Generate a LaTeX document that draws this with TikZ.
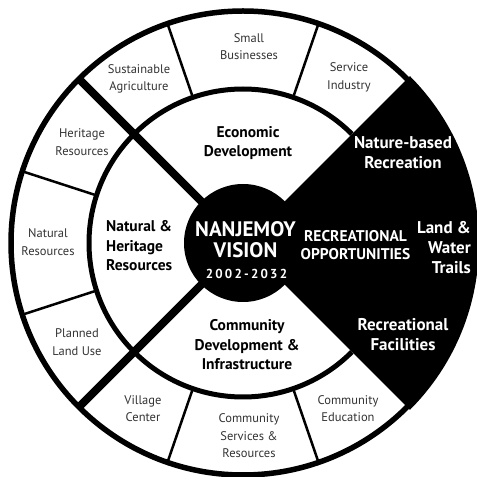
\documentclass[tikz,border=0pt]{standalone}
\usepackage{fontspec}
\setmainfont{PT Sans}
\begin{document}
\begin{tikzpicture}[x=1pt,y=1pt,
  small/.style={font=\fontsize{12.5}{17.5}\selectfont, text=black!80, align=center, inner sep=0pt},
  mid/.style={font=\bfseries\fontsize{15.5}{19.5}\selectfont, align=center, inner sep=0pt},
  rev/.style={font=\bfseries\fontsize{17}{20}\selectfont, text=white, align=center, inner sep=0pt},
  ]
\useasboundingbox (0,0) rectangle (477,477);
\fill[white] (0,0) rectangle (477,477);
\coordinate (C) at (243,234);
% black recreational sector
\fill[black] (C) -- ++(-45:236) arc[start angle=-45,end angle=45,radius=236] -- cycle;
% rings
\draw[line width=5.5] (C) circle[radius=232];
\draw[line width=5] ([shift={(45:154)}]C) arc[start angle=45,end angle=315,radius=154];
\fill[black] (C) circle[radius=59];
% thick spokes
\foreach \a in {135,225} \draw[line width=8] ([shift={(\a:57)}]C) -- ([shift={(\a:232)}]C);
% thin dividers
\foreach \a in {71,109,162,198,251,289} \draw[line width=2.5] ([shift={(\a:154)}]C) -- ([shift={(\a:232)}]C);
% centre
\node[font=\bfseries\fontsize{21}{21}\selectfont, text=white, align=center, inner sep=0pt] (nv) at (245.5,237.5) {NANJEMOY\\VISION};
\node[font=\bfseries\fontsize{13}{14}\selectfont\addfontfeature{LetterSpace=17}, text=white, inner sep=0pt] (yr) at (246.5,203) {2002-2032};
% inner ring
\node[mid] (econ) at (248,334) {Economic\\Development};
\node[mid, anchor=west, align=left] (nat) at (106,231) {Natural \&\\Heritage\\Resources};
\node[mid] (comm) at (247,132) {Community\\Development \&\\Infrastructure};
\node[font=\bfseries\fontsize{15.5}{17.5}\selectfont, text=white, align=center, inner sep=0pt] (rec) at (355.5,232) {RECREATIONAL\\OPPORTUNITIES};
% black sector labels
\node[rev] (nbr) at (403,324) {Nature-based\\Recreation};
\node[rev, anchor=east, align=right] (lwt) at (471,229) {Land \&\\Water\\Trails};
\node[rev] (rf) at (403,142) {Recreational\\Facilities};
% outer ring labels
\node[small] (sa) at (139,398) {Sustainable\\Agriculture};
\node[small] (sb) at (249,430.5) {Small\\Businesses};
\node[small] (si) at (349,399.5) {Service\\Industry};
\node[small] (hr) at (82,335) {Heritage\\Resources};
\node[small] (nr) at (48,235) {Natural\\Resources};
\node[small] (pl) at (77,135) {Planned\\Land Use};
\node[small] (vc) at (143,68.5) {Village\\Center};
\node[small] (cs) at (249,41) {Community\\Services \&\\Resources};
\node[small] (ce) at (348,68.5) {Community\\Education};
\end{tikzpicture}
\end{document}
